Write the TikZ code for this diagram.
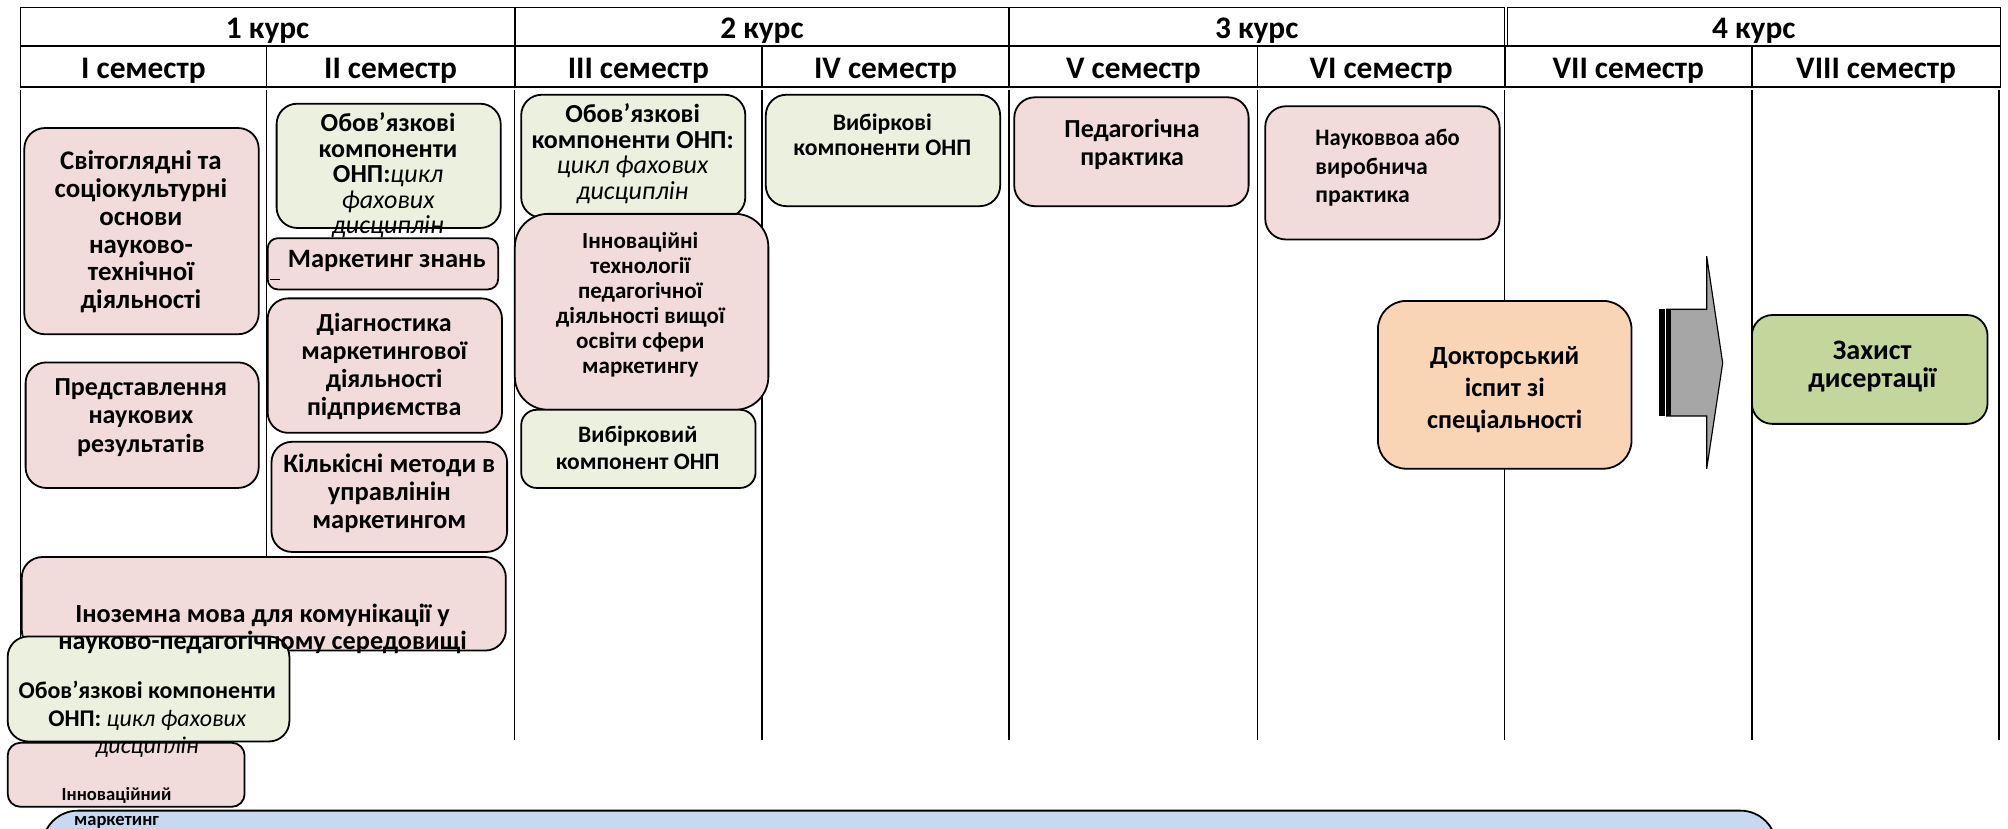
\documentclass[tikz,border=0pt]{standalone}
\usepackage{fontspec}
\setmainfont{Carlito}
\newfontfamily\condfont{Carlito}[FakeStretch=0.95]
\definecolor{pinkf}{RGB}{242,220,219}
\definecolor{greenf}{RGB}{235,241,222}
\definecolor{orangef}{RGB}{250,213,181}
\definecolor{olivef}{RGB}{195,214,155}
\definecolor{bluef}{RGB}{198,217,241}
\definecolor{arrowf}{RGB}{166,166,166}
\tikzset{
  box/.style={draw=black, line width=1.4pt, rounded corners=16pt, inner sep=0pt, outer sep=0pt},
  pinkbox/.style={box, fill=pinkf},
  greenbox/.style={box, fill=greenf},
  cell/.style={draw=black, line width=1.2pt, inner sep=0pt, outer sep=0pt, text height=18pt, text depth=0pt, font=\bfseries\fontsize{24.5}{26}\selectfont},
  txt/.style={align=center, inner sep=0pt, font=\bfseries\fontsize{20.7}{22}\selectfont},
  smtxt/.style={align=center, inner sep=0pt, font=\bfseries\fontsize{20.3}{20}\selectfont},
  vline/.style={line width=1pt},
}
\newcommand\placebox[7]{%
  \pgfmathsetmacro\pbw{#5-#3}\pgfmathsetmacro\pbh{#6-#4}%
  \pgfmathsetmacro\pbx{(#3+#5)/2}\pgfmathsetmacro\pby{(#4+#6)/2}%
  \node[#1, minimum width=\pbw pt, minimum height=\pbh pt] (#2) at (\pbx,\pby) {#7};}
\newcommand\lit[1]{{\mdseries\itshape #1}}
\begin{document}
\begin{tikzpicture}[x=1pt,y=-1pt]
\useasboundingbox (0,0) rectangle (1568,647);
\clip (0,0) rectangle (1568,647);
% header
\placebox{cell}{k1}{16}{6}{402}{36}{1 курс}
\placebox{cell}{k2}{402}{6}{788}{36}{2 курс}
\placebox{cell}{k3}{788}{6}{1174.7}{36}{3 курс}
\placebox{cell}{k4}{1177}{6}{1562}{36}{4 курс}
\placebox{cell}{s1}{16}{36}{208}{68}{I семестр}
\placebox{cell}{s2}{208}{36}{402}{68}{II семестр}
\placebox{cell}{s3}{402}{36}{595}{68}{III семестр}
\placebox{cell}{s4}{595}{36}{788}{68}{IV семестр}
\placebox{cell}{s5}{788}{36}{982}{68}{V семестр}
\placebox{cell}{s6}{982}{36}{1175}{68}{VI семестр}
\placebox{cell}{s7}{1175}{36}{1368}{68}{VII семестр}
\placebox{cell}{s8}{1368}{36}{1562}{68}{VIII семестр}
% body grid lines
\foreach \xx in {16,208,402,595,788,982,1175,1368,1561}
  \draw[vline] (\xx,70.5) -- (\xx,578);
% column 1-2
\placebox{pinkbox}{b1}{19}{100}{202}{261}{}
\node[txt, font=\bfseries\fontsize{21}{21.8}\selectfont] (t1) at (110,181) {Світоглядні та\\соціокультурні\\основи\\науково-\\технічної\\діяльності};
\placebox{pinkbox}{b2}{20}{283}{202}{381}{}
\node[txt, font=\bfseries\fontsize{20.3}{22}\selectfont] (t2) at (110,326) {Представлення\\наукових\\результатів};
\placebox{greenbox}{b3}{216}{81}{391}{178}{}
\node[smtxt] (t3) at (303,137) {Обов’язкові\\компоненти\\ОНП:\lit{цикл}\\\lit{фахових}\\\lit{дисциплін}};
\placebox{pinkbox, rounded corners=8pt}{b4}{209}{186}{389}{226}{}
\node[txt] (t4) at (302,204) {Маркетинг знань};
\draw[line width=0.8pt] ([xshift=2pt,yshift=-12pt]b4.west) -- ++(8,0);
\placebox{pinkbox}{b5}{209}{233}{392}{338}{}
\node[txt, font=\bfseries\fontsize{20.3}{22}\selectfont] (t5) at (300,286) {Діагностика\\маркетингової\\діяльності\\підприємства};
\placebox{pinkbox}{b6}{212}{345}{396}{431}{}
\node[txt] (t6) at (304,385) {Кількісні методи в\\управлінін\\маркетингом};
% bottom-left overlapping group
\placebox{pinkbox}{b7}{17}{435}{395}{508}{}
\placebox{greenbox}{b8}{6}{497}{226}{579}{}
\placebox{pinkbox, rounded corners=10pt}{b9}{6}{580}{191}{630}{}
\placebox{box, fill=bluef, rounded corners=28pt}{b10}{33}{633}{1387}{720}{}
\node[txt, font=\bfseries\fontsize{20.5}{21.5}\selectfont] (t7) at (205,491) {Іноземна мова для комунікації у\\науково-педагогічному середовищі};
\node[txt, font=\bfseries\fontsize{18.7}{21.5}\selectfont] (t8) at (115,562) {Обов’язкові компоненти\\ОНП: \lit{цикл фахових}\\\lit{дисциплін}};
\node[txt, font=\bfseries\fontsize{14.5}{20}\selectfont] (t9) at (91,631) {Інноваційний\\маркетинг};
% column 3
\placebox{greenbox}{b11}{407}{74}{582}{170}{}
\node[smtxt] (t11) at (494,120) {Обов’язкові\\компоненти ОНП:\\\lit{цикл фахових}\\\lit{дисциплін}};
\placebox{pinkbox, rounded corners=26pt}{b12}{402}{167}{600}{320}{}
\node[smtxt, font=\bfseries\fontsize{18}{19.6}\selectfont] (t12) at (500,238) {Інноваційні\\технології\\педагогічної\\діяльності вищої\\освіти сфери\\маркетингу};
\placebox{greenbox, rounded corners=12pt}{b13}{407}{320}{590}{381}{}
\node[smtxt, font=\bfseries\fontsize{18.4}{21}\selectfont] (t13) at (498,350) {Вибірковий\\компонент ОНП};
% column 4
\placebox{greenbox}{b14}{598}{74}{781}{161}{}
\node[smtxt, font=\bfseries\fontsize{18.5}{19.5}\selectfont] (t14) at (689,105) {Вибіркові\\компоненти ОНП};
% column 5
\placebox{pinkbox}{b15}{792}{76}{975}{161}{}
\node[txt, font=\bfseries\fontsize{20.3}{22}\selectfont] (t15) at (884,113) {Педагогічна\\практика};
% column 6
\placebox{pinkbox}{b16}{988}{83}{1171}{187}{}
\node[txt, align=left, anchor=west, font=\bfseries\fontsize{18.5}{22}\selectfont] (t16) at (1027,131) {{\condfont Науковвоа або}\\ виробнича\\ практика};
% exam
\placebox{box, fill=orangef, rounded corners=22pt}{b17}{1076}{235}{1274}{366}{}
\node[txt, font=\bfseries\fontsize{20.5}{25}\selectfont] (t17) at (1175,304) {Докторський\\іспит зі\\спеціальності};
% arrow
\draw[fill=arrowf, line width=0.9pt] (1301.5,241.5) -- (1332.7,241.5) -- (1332.7,200) -- (1345.2,283.5) -- (1332.7,366.2) -- (1332.7,324.8) -- (1301.5,324.8) -- cycle;
\fill[black] (1301.5,241.5) rectangle (1304.6,324.8);
\fill[black] (1295.7,241.5) rectangle (1300.1,324.8);
% defence
\placebox{box, fill=olivef}{b18}{1368}{246}{1552}{331}{}
\node[txt, font=\bfseries\fontsize{22}{22}\selectfont] (t18) at (1462,286) {Захист\\дисертації};
\end{tikzpicture}
\end{document}
